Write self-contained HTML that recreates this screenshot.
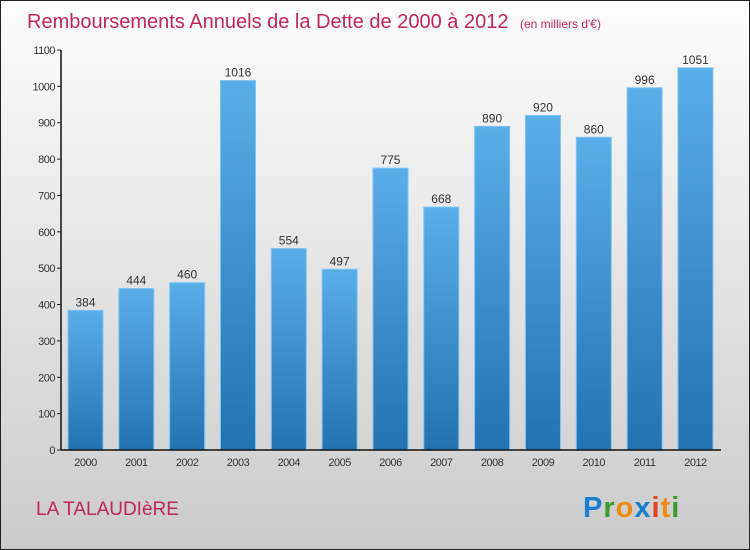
<!DOCTYPE html>
<html><head><meta charset="utf-8"><style>
body{margin:0}
#c{width:750px;height:550px;position:relative;box-sizing:border-box;border:1px solid #222;background:linear-gradient(#fdfdfd,#cbcbcb);font-family:"Liberation Sans",sans-serif;overflow:hidden}
</style></head><body>
<div id="c">
<svg width="750" height="550" style="position:absolute;left:-1px;top:-1px" id="svg">
<defs><linearGradient id="bg" x1="0" y1="0" x2="0" y2="1"><stop offset="0" stop-color="#5aaee8"/><stop offset="1" stop-color="#2273b0"/></linearGradient></defs>
<text x="27" y="28" font-size="20" fill="#c2255c">Remboursements Annuels de la Dette de 2000 à 2012 <tspan font-size="12" dx="6">(en milliers d'€)</tspan></text>
<g id="plot"></g>
<text x="36" y="515" font-size="19" fill="#c2255c">LA TALAUDIèRE</text>
<text x="583" y="517" font-size="29" font-weight="bold" letter-spacing="1"><tspan fill="#1a7fd0">P</tspan><tspan fill="#3a9a2a">r</tspan><tspan fill="#f08a10">o</tspan><tspan fill="#1a7fd0">x</tspan><tspan fill="#e04020">i</tspan><tspan fill="#f08a10">t</tspan><tspan fill="#3a9a2a">i</tspan></text>
</svg>
</div>
<script>
const years=["2000","2001","2002","2003","2004","2005","2006","2007","2008","2009","2010","2011","2012"];
const values=[384,444,460,1016,554,497,775,668,890,920,860,996,1051];
const yTicks=[0,100,200,300,400,500,600,700,800,900,1000,1100];
const NS="http://www.w3.org/2000/svg";
const g=document.getElementById('plot');
const y0=450,yMax=1100,ph=400,x0=61,x1=721;
const ys=v=>y0-v/yMax*ph;
const step=50.83,bw=35,bx=i=>68+i*step;
function mk(t,a,p){const e=document.createElementNS(NS,t);for(const k in a)e.setAttribute(k,a[k]);(p||g).appendChild(e);return e;}
yTicks.forEach(t=>{
const y=ys(t);
const l=mk('line',{x1:x0-4,x2:x0,y1:y,y2:y,stroke:'#222'});


const tx=mk('text',{x:x0-6,y:y+4,'font-size':11,'text-anchor':'end',fill:'#333','letter-spacing':'-0.5'});
tx.textContent=t;


});
values.forEach((v,i)=>{
const x=bx(i),y=ys(v);
const r=mk('rect',{x:x,y:y,width:bw,height:y0-y,fill:'url(#bg)',stroke:'#7cc4f4','stroke-width':1});


const t=mk('text',{x:x+bw/2,y:y-4,'font-size':12,'text-anchor':'middle',fill:'#333'});
t.textContent=v;


const xl=mk('text',{x:x+bw/2,y:y0+16,'font-size':11,'text-anchor':'middle',fill:'#333','letter-spacing':'-0.5'});
xl.textContent=years[i];


});
const ya=mk('line',{x1:x0,x2:x0,y1:ys(1100),y2:y0,stroke:'#111','stroke-width':1.5});


const xa=mk('line',{x1:x0,x2:x1,y1:y0,y2:y0,stroke:'#111','stroke-width':1.5});


</script>
</body></html>
